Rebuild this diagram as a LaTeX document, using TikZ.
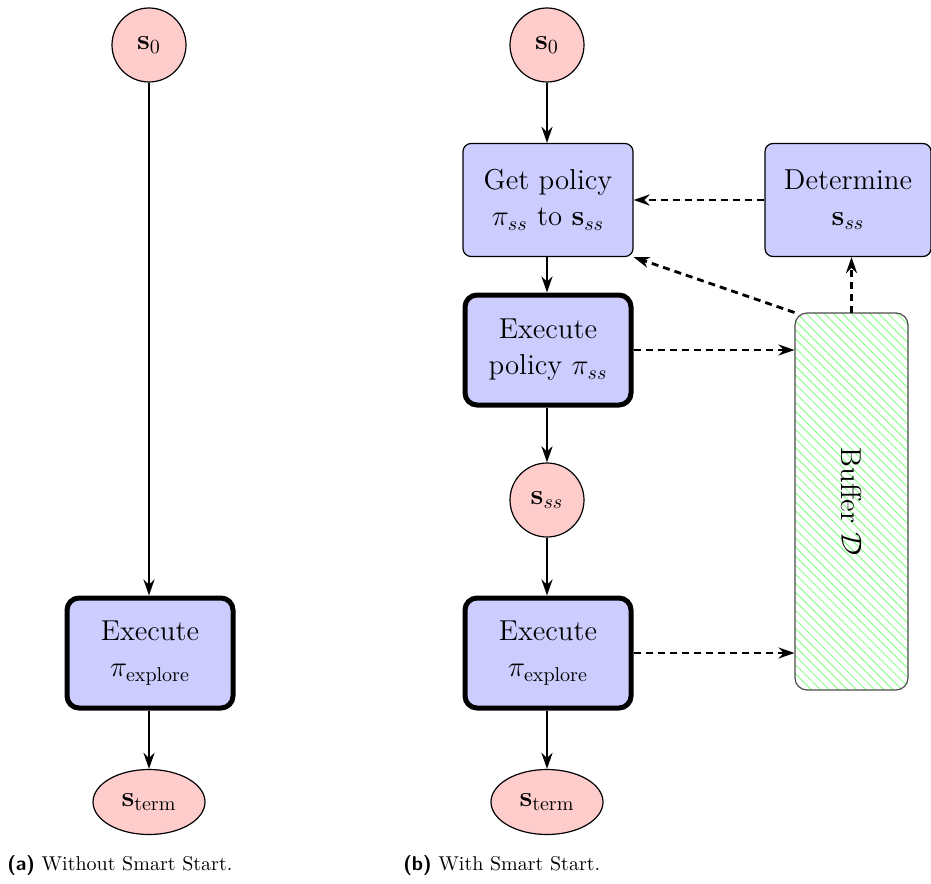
\documentclass[tikz,border=0pt]{standalone}
\usepackage{amsmath}
\usepackage{amsfonts}
\usepackage{bm}
\usetikzlibrary{positioning}
\usetikzlibrary{patterns.meta, shapes.geometric}
\usetikzlibrary{arrows.meta}

\begin{document}
\begin{tikzpicture}[x=0.5pt, y=-0.5pt,
    state/.style={draw, line width=0.6pt, circle, fill=red!20, minimum size=37pt, inner sep=0pt, font=\Large},
    term/.style={draw, line width=0.6pt, ellipse, fill=red!20, minimum width=56pt, minimum height=32.5pt, inner sep=0pt, font=\Large},
    proc/.style={draw, line width=0.6pt, rounded corners=4pt, fill=blue!20, minimum width=85pt, minimum height=56.5pt, align=center, font=\Large},
    exec/.style={proc, line width=2.5pt, rounded corners=6pt, minimum width=83pt, minimum height=55pt},
    flow/.style={-{Stealth[length=8pt, width=5.5pt]}, line width=1.4pt},
    data/.style={flow, dash pattern=on 3.5pt off 2.5pt}]
    \useasboundingbox (0,0) rectangle (931,883);

    % (a) without smart start
    \node[state] (s0a) at (149,45) {$\mathbf{s}_0$};
    \node[exec] (exea) at (150,653) {Execute\\$\pi_{\text{explore}}$};
    \node[term] (sterma) at (149,802) {$\mathbf{s}_{\text{term}}$};
    \draw[flow] (s0a) -- (s0a |- exea.north);
    \draw[flow] (exea.south -| sterma) -- (sterma);

    % (b) with smart start
    \node[state] (s0b) at (547,45) {$\mathbf{s}_0$};
    \node[proc] (getpol) at (548,200) {Get policy\\$\pi_{ss}$ to $\mathbf{s}_{ss}$};
    \node[exec] (exepol) at (548,350) {Execute\\policy $\pi_{ss}$};
    \node[state] (sss) at (547,500) {$\mathbf{s}_{ss}$};
    \node[exec] (exeb) at (548,653) {Execute\\$\pi_{\text{explore}}$};
    \node[term] (stermb) at (547,802) {$\mathbf{s}_{\text{term}}$};
    \node[proc, minimum width=83pt] (determine) at (848,200) {Determine\\$\mathbf{s}_{ss}$};
    \node[draw=black!70, line width=0.6pt, rounded corners=6pt,
          pattern={Lines[angle=-45, distance=3.2pt, line width=0.5pt]}, pattern color=green!45,
          minimum width=56.5pt, minimum height=188.5pt] (buffer) at (851.5,501.5) {};
    \node[rotate=-90, font=\Large] (buflabel) at (buffer.center) {Buffer $\mathcal{D}$};

    \draw[flow] (s0b) -- (s0b |- getpol.north);
    \draw[flow] (getpol.south -| s0b) -- (s0b |- exepol.north);
    \draw[flow] (exepol.south -| sss) -- (sss);
    \draw[flow] (sss) -- (sss |- exeb.north);
    \draw[flow] (exeb.south -| stermb) -- (stermb);

    \draw[data] (determine.west) -- (getpol.east |- determine.west);
    \draw[data] (buffer.north west) -- (getpol.south east);
    \draw[data] (buffer.north) -- (buffer.north |- determine.south);
    \draw[data] (exepol.east) -- (exepol.east -| buffer.west);
    \draw[data] (exeb.east) -- (exeb.east -| buffer.west);

    % captions
    \node[anchor=base west, inner sep=0pt] (capa) at (7,870) {\textsf{\textbf{(a)}} Without Smart Start.};
    \node[anchor=base west, inner sep=0pt] (capb) at (403,870) {\textsf{\textbf{(b)}} With Smart Start.};
\end{tikzpicture}
\end{document}
